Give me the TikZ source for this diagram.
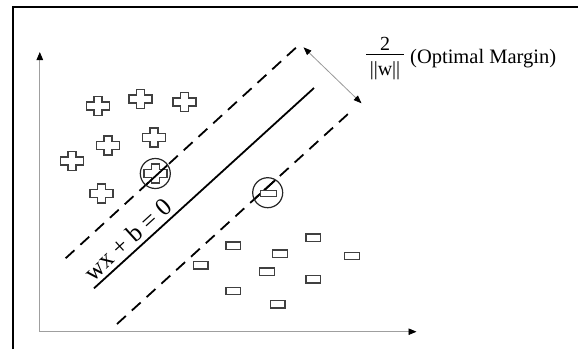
\documentclass[tikz,border=0pt]{standalone}
\usepackage{fontspec}
\setmainfont{Liberation Serif}
\usetikzlibrary{arrows.meta,calc}
\tikzset{
  frameline/.style={line width=2pt, black},
  axisline/.style={draw=gray!75, line width=0.9pt, -{Triangle[color=black,length=8pt,width=6.5pt]}},
  marginarrow/.style={draw=gray!80, line width=0.8pt, {Triangle[color=black,length=8pt,width=6pt]}-{Triangle[color=black,length=8pt,width=6pt]}},
  hyper/.style={line width=1.8pt, black},
  marginline/.style={line width=1.8pt, black, dash pattern=on 12pt off 8pt},
  plusline/.style={draw=black!75, line width=1.4pt, fill=white, line join=miter},
  sq/.style={draw=black!75, line width=1.4pt, fill=white, rectangle, minimum width=14.5pt, minimum height=7.5pt, inner sep=0pt},
  ring/.style={draw=black!85, line width=1.2pt, circle, minimum size=30pt, inner sep=0pt},
  pluspic/.pic={\draw[plusline] (-4,-9.5) -- (4,-9.5) -- (4,-4) -- (11.5,-4) -- (11.5,4) -- (4,4) -- (4,9.5) -- (-4,9.5) -- (-4,4) -- (-11.5,4) -- (-11.5,-4) -- (-4,-4) -- cycle;}
}
\begin{document}
\begin{tikzpicture}[x=1pt,y=-1pt]
\useasboundingbox (0,0) rectangle (578,349);
% frame (top and left edges)
\coordinate (f1) at (13.3,349);
\coordinate (f2) at (13.3,6.7);
\coordinate (f3) at (578,6.7);
\draw[frameline] (f1) -- (f2) -- (f3);
% axes
\coordinate (O) at (39.8,331.7);
\coordinate (Ytip) at (39.8,52);
\coordinate (Xtip) at (416.5,331.7);
\draw[axisline] (O) -- (Ytip);
\draw[axisline] (O) -- (Xtip);
% hyperplane and margins
\coordinate (u1) at (65.6,258.3);
\coordinate (u2) at (296.7,47);
\coordinate (s1) at (94,288.3);
\coordinate (s2) at (314,88);
\coordinate (l1) at (117,324);
\coordinate (l2) at (348,114);
\draw[marginline] (u1) -- (u2);
\draw[hyper] (s1) -- (s2);
\draw[marginline] (l1) -- (l2);
% margin arrow
\coordinate (m1) at (303.5,47.3);
\coordinate (m2) at (361.5,103.3);
\draw[marginarrow] (m1) -- (m2);
% label on hyperplane
\node[rotate=42.3, anchor=base, inner sep=0pt, font=\fontsize{25}{25}\selectfont] (eq) at (133.5,245.5) {wx + b = 0};
% fraction label
\node[anchor=base, inner sep=0pt, font=\fontsize{20}{20}\selectfont] (two) at (385,50) {2};
\coordinate (fb1) at (366,54);
\coordinate (fb2) at (403.5,54);
\draw[line width=0.9pt] (fb1) -- (fb2);
\node[anchor=base, inner sep=0pt, font=\fontsize{20}{20}\selectfont] (normw) at (385,75) {||w||};
\node[anchor=base west, inner sep=0pt, font=\fontsize{20.5}{20.5}\selectfont] (om) at (410,63) {(Optimal Margin)};
% plus class
\pic at (98,106) {pluspic};
\pic at (140.5,99) {pluspic};
\pic at (184.3,102) {pluspic};
\pic at (154,137.3) {pluspic};
\pic at (108,145.5) {pluspic};
\pic at (72,161) {pluspic};
\pic at (101.5,193.5) {pluspic};
\pic at (155.3,173.5) {pluspic};
\node[ring] (cp) at (155.3,173.5) {};
\begin{scope}
\clip (155.3,173.5) circle (14.5);
\draw[hyper] (u1) -- (u2);
\end{scope}
% square class
\node[ring] (cs) at (267.7,192.7) {};
\begin{scope}
\clip (267.7,192.7) circle (14.5);
\draw[hyper] (l1) -- (l2);
\end{scope}
\node[sq, minimum width=16.5pt, minimum height=6.5pt] (sv) at (268.5,193.5) {};
\node[sq] (q1) at (233.3,245.7) {};
\node[sq] (q2) at (313.3,237.7) {};
\node[sq] (q3) at (280,253.7) {};
\node[sq] (q4) at (352,256) {};
\node[sq] (q5) at (200.7,265.3) {};
\node[sq] (q6) at (267,271.7) {};
\node[sq] (q7) at (313.3,279.3) {};
\node[sq] (q8) at (233.3,291) {};
\node[sq] (q9) at (277.7,304.3) {};
\end{tikzpicture}
\end{document}
